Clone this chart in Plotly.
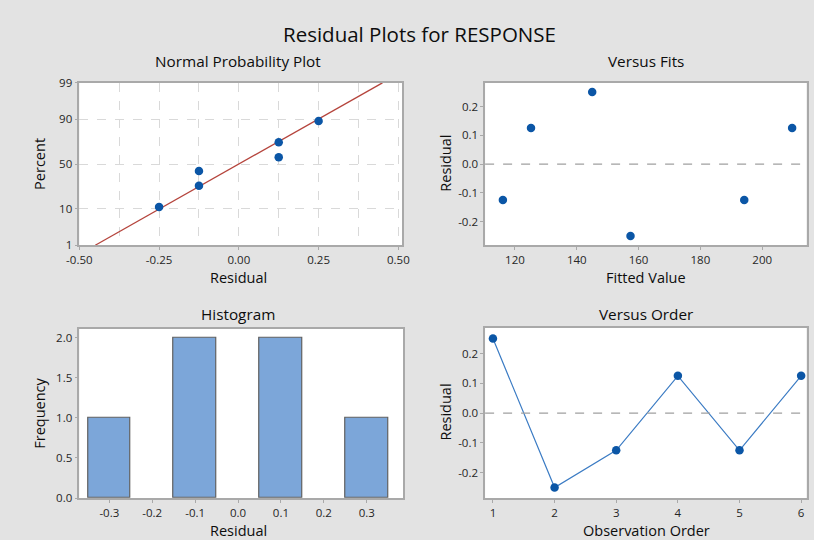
import plotly.graph_objects as go
from statistics import NormalDist

# ---------------- data ----------------
residuals_sorted = [-0.25, -0.125, -0.125, 0.125, 0.125, 0.25]
npp_percent = [10.9, 26.6, 42.2, 57.8, 73.4, 89.1]
fit_line_x = [-0.45, 0.45]
fit_line_pct = [1, 99]
npp_pct_ticks = [1, 10, 50, 90, 99]
npp_x_ticks = [-0.50, -0.25, 0.00, 0.25, 0.50]
npp_x_labels = ["-0.50", "-0.25", "0.00", "0.25", "0.50"]

fitted_values = [116.1, 125.2, 145.0, 157.4, 194.2, 209.7]
fits_residuals = [-0.125, 0.125, 0.25, -0.25, -0.125, 0.125]
fits_x_ticks = [120, 140, 160, 180, 200]

hist_centers = [-0.3, -0.1, 0.1, 0.3]
hist_counts = [1, 2, 2, 1]
hist_bin_width = 0.1
hist_x_ticks = [-0.3, -0.2, -0.1, 0.0, 0.1, 0.2, 0.3]
hist_x_labels = ["-0.3", "-0.2", "-0.1", "0.0", "0.1", "0.2", "0.3"]
hist_y_ticks = [0.0, 0.5, 1.0, 1.5, 2.0]
hist_y_labels = ["0.0", "0.5", "1.0", "1.5", "2.0"]

order_obs = [1, 2, 3, 4, 5, 6]
order_residuals = [0.25, -0.25, -0.125, 0.125, -0.125, 0.125]

res_y_ticks = [-0.2, -0.1, 0.0, 0.1, 0.2]
res_y_labels = ["-0.2", "-0.1", "0.0", "0.1", "0.2"]

# ---------------- styling ----------------
# the page body keeps its 8px margin, so the figure is 16px smaller than the window
OFF = 8
W, H = 830 - 2 * OFF, 556 - 2 * OFF
BG = "#e3e3e3"
FRAME = "#a9a9a9"
BLUE = "#0b56a6"
FONT = "Open Sans"
TXT = "#0d0d0d"
TICKC = "#262626"

nd = NormalDist()
def z(p):
    return nd.inv_cdf(p / 100.0)

def px_x(a, b):
    return [max(0.0, (a - OFF) / W), min(1.0, (b - OFF) / W)]

def px_y(top, bottom):
    return [max(0.0, 1 - (bottom - OFF) / H), min(1.0, 1 - (top - OFF) / H)]

fig = go.Figure()

# Normal probability plot
fig.add_trace(go.Scatter(x=fit_line_x, y=[z(p) for p in fit_line_pct], mode="lines",
                         line=dict(color="#b5443c", width=1.3), xaxis="x", yaxis="y",
                         showlegend=False, hoverinfo="skip"))
fig.add_trace(go.Scatter(x=residuals_sorted, y=[z(p) for p in npp_percent], mode="markers",
                         marker=dict(color=BLUE, size=8.5), xaxis="x", yaxis="y", showlegend=False))

# Versus fits
fig.add_trace(go.Scatter(x=fitted_values, y=fits_residuals, mode="markers",
                         marker=dict(color=BLUE, size=8.5), xaxis="x2", yaxis="y2", showlegend=False))

# Histogram
fig.add_trace(go.Bar(x=hist_centers, y=hist_counts, width=hist_bin_width,
                     marker=dict(color="#7ca6d9", line=dict(color="#606060", width=1.2)),
                     xaxis="x3", yaxis="y3", showlegend=False))

# Versus order
fig.add_trace(go.Scatter(x=order_obs, y=order_residuals, mode="lines+markers",
                         line=dict(color="#3c7cc4", width=1.2),
                         marker=dict(color=BLUE, size=8.5), xaxis="x4", yaxis="y4", showlegend=False))

ax_common = dict(showline=True, mirror=True, linecolor=FRAME, linewidth=1.5,
                 ticks="outside", ticklen=3, tickcolor=FRAME, tickwidth=1,
                 tickfont=dict(family=FONT, size=11.5, color=TICKC),
                 zeroline=False, showgrid=False, fixedrange=True)
ax_nogrid = {k: v for k, v in ax_common.items() if k != "showgrid"}

layout = dict(
    width=W, height=H, autosize=False,
    margin=dict(l=0, r=0, t=0, b=0),
    paper_bgcolor=BG, plot_bgcolor="white",
    font=dict(family=FONT, color=TXT),
    bargap=0,
    xaxis=dict(domain=px_x(76, 407), anchor="y", range=[-0.5, 0.512],
               tickmode="array", tickvals=npp_x_ticks, ticktext=npp_x_labels,
               showgrid=True, gridcolor="#d9d9d9", griddash="dash", gridwidth=1,
               minor=dict(tickmode="linear", tick0=-0.5, dtick=0.125, showgrid=True,
                          gridcolor="#d9d9d9", griddash="dash", gridwidth=1, ticks=""),
               **ax_nogrid),
    yaxis=dict(domain=px_y(85, 252), anchor="x", range=[z(1), z(99)],
               tickmode="array", tickvals=[z(p) for p in npp_pct_ticks],
               ticktext=[str(p) for p in npp_pct_ticks],
               showgrid=True, gridcolor="#d9d9d9", griddash="dash", gridwidth=1,
               **ax_nogrid),
    xaxis2=dict(domain=px_x(492, 821.5), anchor="y2", range=[110.35, 214.35],
                tickmode="array", tickvals=fits_x_ticks, ticktext=[str(v) for v in fits_x_ticks],
                **ax_common),
    yaxis2=dict(domain=px_y(85, 252), anchor="x2", range=[-0.282, 0.282],
                tickmode="array", tickvals=res_y_ticks, ticktext=res_y_labels, **ax_common),
    xaxis3=dict(domain=px_x(76, 408), anchor="y3", range=[-0.37, 0.385],
                tickmode="array", tickvals=hist_x_ticks, ticktext=hist_x_labels, **ax_common),
    yaxis3=dict(domain=px_y(338, 512), anchor="x3", range=[0, 2.11],
                tickmode="array", tickvals=hist_y_ticks, ticktext=hist_y_labels, **ax_common),
    xaxis4=dict(domain=px_x(492, 821.5), anchor="y4", range=[0.873, 6.087],
                tickmode="array", tickvals=order_obs, ticktext=[str(v) for v in order_obs],
                **ax_common),
    yaxis4=dict(domain=px_y(337, 512), anchor="x4", range=[-0.285, 0.286],
                tickmode="array", tickvals=res_y_ticks, ticktext=res_y_labels, **ax_common),
)
fig.update_layout(**layout)

# zero reference lines
for xr, yr in (("x2", "y2"), ("x4", "y4")):
    fig.add_shape(type="line", xref=f"{xr} domain", yref=yr, x0=0, x1=1, y0=0, y1=0,
                  line=dict(color="#a0a0a0", width=1.3, dash="dash"), layer="above")

def ann(text, x, y, size, angle=0):
    fig.add_annotation(text=text, x=(x - OFF) / W, y=1 - (y - OFF) / H,
                       xref="paper", yref="paper",
                       showarrow=False, textangle=angle, xanchor="center", yanchor="middle",
                       font=dict(family=FONT, size=size, color=TXT))

ann("Residual Plots for RESPONSE", 425, 35, 20.5)
ann("Normal Probability Plot", 239, 63, 15.3)
ann("Versus Fits", 657, 63, 15.3)
ann("Histogram", 239, 323, 15.3)
ann("Versus Order", 657, 323, 15.3)

ann("Residual", 239, 285, 14.5)
ann("Fitted Value", 657, 285, 14.5)
ann("Residual", 239, 545, 14.5)
ann("Observation Order", 657, 545, 14.5)

ann("Percent", 35, 168, 14.5, -90)
ann("Residual", 451, 168, 14.5, -90)
ann("Frequency", 35, 425, 14.5, -90)
ann("Residual", 451, 424, 14.5, -90)

fig.write_html("out.html")
